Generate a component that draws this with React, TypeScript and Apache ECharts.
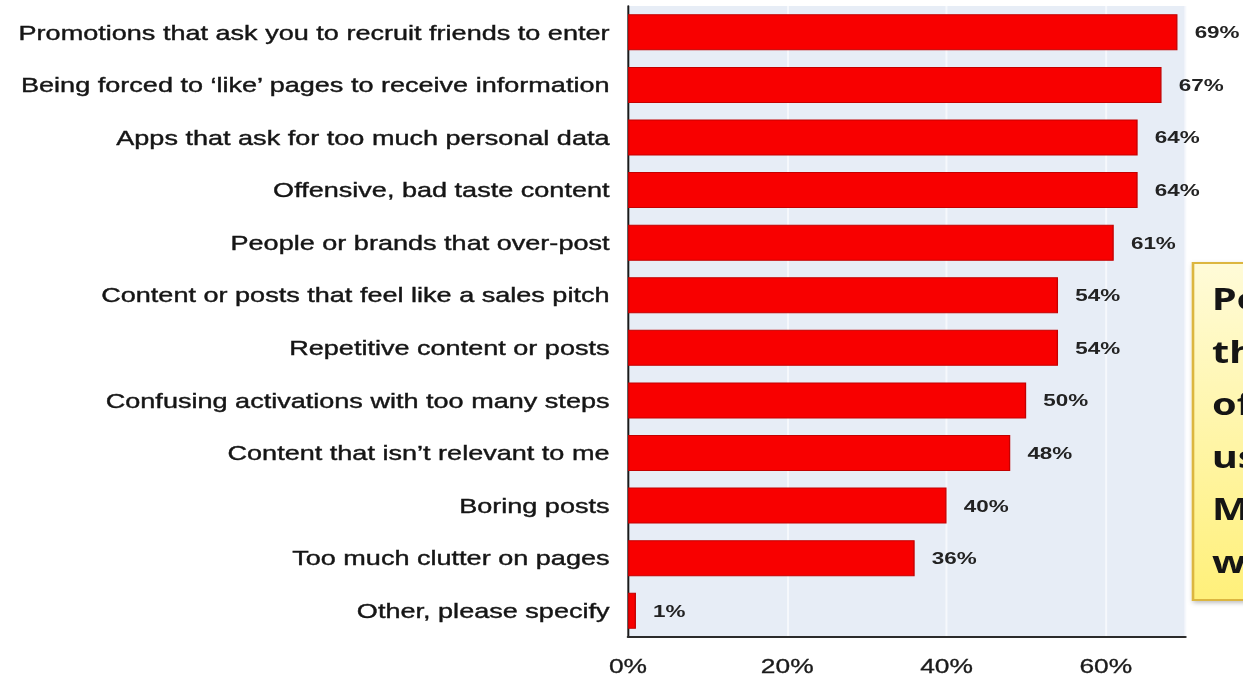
import React, { useEffect, useRef } from "react";
import * as echarts from "echarts";

const categories: string[] = [
  "Promotions that ask you to recruit friends to enter",
  "Being forced to ‘like’ pages to receive information",
  "Apps that ask for too much personal data",
  "Offensive, bad taste content",
  "People or brands that over-post",
  "Content or posts that feel like a sales pitch",
  "Repetitive content or posts",
  "Confusing activations with too many steps",
  "Content that isn’t relevant to me",
  "Boring posts",
  "Too much clutter on pages",
  "Other, please specify",
];

const values: number[] = [69, 67, 64, 64, 61, 54, 54, 50, 48, 40, 36, 1];

const tickValues: number[] = [0, 20, 40, 60];

const noteLines: string[] = ["Pe", "th", "of", "us", "M", "w"];

const S = 1.32;
const W = 1243 / S;
const H = 681;

export default function App() {
  const ref = useRef<HTMLDivElement>(null);

  useEffect(() => {
    document.body.style.margin = "0";
    document.body.style.overflow = "hidden";
    if (!ref.current) return;
    const chart = echarts.init(ref.current, undefined, { renderer: "svg" });
    chart.setOption({
      animation: false,
      backgroundColor: "#ffffff",
      textStyle: { fontFamily: "Liberation Sans, Arial, sans-serif" },
      grid: {
        left: 628 / S,
        right: W - 1185 / S,
        top: 6,
        bottom: H - 637,
        show: true,
        backgroundColor: "#e7edf6",
        borderWidth: 0,
      },
      xAxis: {
        type: "value",
        min: 0,
        max: 70,
        interval: 20,
        axisLine: { show: true, lineStyle: { color: "#2b2b2b", width: 2 } },
        axisTick: { show: false },
        splitLine: { show: true, lineStyle: { color: "#f6f8fc", width: 1.5 } },
        axisLabel: {
          fontSize: 20,
          color: "#1a1a1a",
          margin: 19,
          textBorderColor: "#1a1a1a",
          textBorderWidth: 0.3,
          formatter: (v: number) => (tickValues.includes(v) ? v + "%" : ""),
        },
      },
      yAxis: {
        type: "category",
        data: categories,
        inverse: true,
        axisLine: { show: true, lineStyle: { color: "#1a1a1a", width: 1.5 } },
        axisTick: { show: false },
        axisLabel: {
          fontSize: 20.5,
          color: "#151515",
          margin: 14,
          textBorderColor: "#151515",
          textBorderWidth: 0.4,
        },
      },
      series: [
        {
          type: "bar",
          data: values,
          barWidth: 36,
          itemStyle: {
            color: "#f80000",
            borderColor: "#c40000",
            borderWidth: 1,
          },
          label: {
            show: true,
            position: "right",
            distance: 13,
            fontSize: 17,
            fontWeight: "bold",
            color: "#222222",
            formatter: "{c}%",
          },
        },
      ],
      graphic: [
        {
          type: "rect",
          shape: { x: 1193 / S, y: 263, width: 80, height: 337 },
          style: {
            fill: new echarts.graphic.LinearGradient(0, 0, 0, 1, [
              { offset: 0, color: "#fffbd8" },
              { offset: 1, color: "#fff07a" },
            ]),
            stroke: "#dcb640",
            lineWidth: 2,
            shadowBlur: 4,
            shadowOffsetY: 2,
            shadowOffsetX: 1,
            shadowColor: "rgba(0,0,0,0.25)",
          },
        },
        {
          type: "text",
          x: 1212 / S,
          y: 272,
          style: {
            text: noteLines.join("\n"),
            fontSize: 30,
            lineHeight: 52.5,
            fontWeight: "bold",
            fontFamily: "Noto Sans, sans-serif",
            fill: "#151515",
          },
        },
      ],
    });
    return () => chart.dispose();
  }, []);

  return (
    <div
      style={{
        position: "fixed",
        left: 0,
        top: 0,
        width: 1243,
        height: H,
        overflow: "hidden",
      }}
    >
      <div
        ref={ref}
        style={{
          width: W,
          height: H,
          transform: `scaleX(${S})`,
          transformOrigin: "0 0",
        }}
      />
    </div>
  );
}
